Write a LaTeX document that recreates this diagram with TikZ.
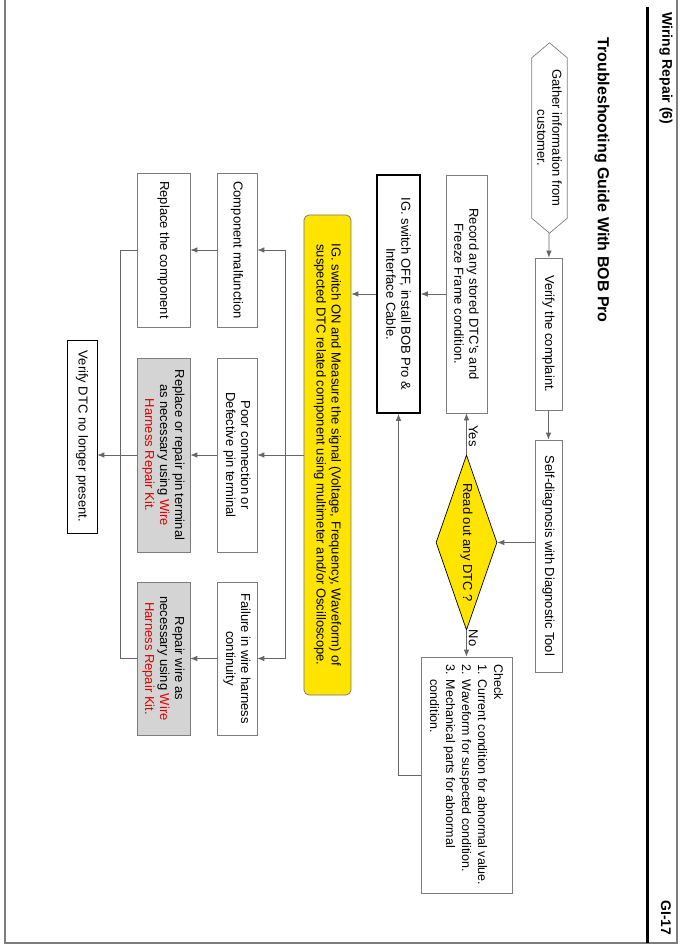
\documentclass[tikz,border=0pt]{standalone}
\usepackage{fontspec}
\setmainfont{Liberation Sans}
\usetikzlibrary{arrows.meta,calc,positioning,shapes.geometric}

\definecolor{dtcyellow}{RGB}{255,228,0}
\definecolor{kitred}{RGB}{220,0,0}
\definecolor{boxgray}{RGB}{125,125,125}
\definecolor{kitfill}{RGB}{212,212,212}
\newcommand{\kit}[1]{\textcolor{kitred}{#1}}

\begin{document}
\begin{tikzpicture}[x=1pt, y=1pt, every node/.style={font=\fontsize{13}{15}\selectfont}]
\tikzstyle{process} = [rectangle, draw=boxgray, line width=0.7pt, fill=white, text centered, inner sep=3pt]
\tikzstyle{repair} = [process, fill=kitfill]
\tikzstyle{decision} = [diamond, draw=black, line width=0.7pt, fill=dtcyellow, aspect=2.87, inner sep=0pt,
minimum width=175pt, minimum height=61pt]
\tikzstyle{arrow} = [line width=0.7pt, draw=black!60, ->, >={Latex[length=7pt,width=5.5pt]}]
\tikzstyle{line} = [line width=0.7pt, draw=black!60]

\useasboundingbox (-682,-950) rectangle (0,0);

\begin{scope}[rotate=-90, transform shape]
% Page frame and header
\draw [boxgray, line width=1.2pt] (0,-5) -- (943,-5) -- (943,-677) -- (0,-677);
\draw [line width=3pt] (7,-35) -- (943,-35);
\node (chapter) [anchor=west, font=\fontsize{14}{16}\selectfont\bfseries] at (9,-16) {Wiring Repair (6)};
\node (pageno) [anchor=east, font=\fontsize{14}{16}\selectfont\bfseries] at (939,-16) {GI-17};
\node (guide) [anchor=west, font=\fontsize{16}{18}\selectfont\bfseries] at (34,-80) {Troubleshooting Guide With BOB Pro};

% Nodes
\node (gather) [rectangle, minimum width=190pt, minimum height=35pt, align=center] at (138,-132.5)
  {Gather information from\\customer.};
\draw [boxgray, line width=0.7pt] (gather.west)
  -- ($(gather.north west)!15pt!(gather.north east)$) -- ($(gather.north east)!15pt!(gather.north west)$)
  -- (gather.east)
  -- ($(gather.south east)!15pt!(gather.south west)$) -- ($(gather.south west)!15pt!(gather.south east)$)
  -- cycle;
\node (verify) [process, minimum width=152pt, minimum height=27pt] at (334,-133.5) {Verify the complaint.};
\node (selfdiag) [process, minimum width=232pt, minimum height=27pt] at (556,-133.5) {Self-diagnosis with Diagnostic Tool};
\node (readdtc) [decision] at (542.5,-215.5) {Read out any DTC ?};
\node (record) [process, minimum width=238pt, minimum height=41pt, align=center] at (294,-215.5)
  {Record any stored DTC's and\\Freeze Frame condition.};
\node (check) [process, minimum width=236pt, minimum height=91pt, align=left, font=\fontsize{12.5}{16}\selectfont] at (775,-215.5)
  {Check\\1. Current condition for abnormal value.\\2. Waveform for suspected condition.\\3. Mechanical parts for abnormal\\\phantom{3. }condition.};
\node (igoff) [process, draw=black, line width=1.6pt, minimum width=238pt, minimum height=43pt, align=center] at (294,-283.5)
  {IG. switch OFF, install BOB Pro \&\\Interface Cable.};
\node (measure) [process, draw=black!55, rounded corners=5pt, fill=dtcyellow, minimum width=480pt, minimum height=47pt, align=center] at (455,-354.5)
  {IG. switch ON and Measure the signal (Voltage, Frequency, Waveform) of\\suspected DTC related component using multimeter and/or Oscilloscope.};
\node (compmal) [process, minimum width=154pt, minimum height=40pt] at (250,-445) {Component malfunction};
\node (poorconn) [process, minimum width=194pt, minimum height=40pt, align=center] at (455,-445) {Poor connection or\\Defective pin terminal};
\node (failwire) [process, minimum width=153pt, minimum height=40pt, align=center] at (658.5,-445) {Failure in wire harness\\continuity};
\node (replcomp) [process, minimum width=154pt, minimum height=53pt] at (250,-518.5) {Replace the component};
\node (replpin) [repair, minimum width=194pt, minimum height=53pt, align=center] at (455,-518.5)
  {Replace or repair pin terminal\\as necessary using \kit{Wire}\\\kit{Harness Repair Kit.}};
\node (repwire) [repair, minimum width=153pt, minimum height=53pt, align=center] at (658.5,-518.5)
  {Repair wire as\\necessary using \kit{Wire}\\\kit{Harness Repair Kit.}};
\node (verdtc) [process, draw=black, minimum width=193pt, minimum height=30pt] at (436.5,-600) {Verify DTC no longer present.};

\coordinate (split) at (0,-397);
\coordinate (merge) at (0,-562);

% Arrows
\draw [arrow] (gather) -- (verify);
\draw [arrow] (verify) -- (selfdiag);
\draw [arrow] (readdtc.north |- selfdiag.south) -- (readdtc.north);
\draw [arrow] (readdtc.west) -- node [above, pos=0.45, inner sep=2pt] {Yes} (record.east);
\draw [arrow] (readdtc.east) -- node [above, pos=0.3, inner sep=2pt] {No} (check.west);
\draw [arrow] (record) -- (igoff);
\draw [arrow] (check.south) |- (igoff.east);
\draw [arrow] (igoff.south) -- (igoff.south |- measure.north);
\draw [line] (measure.south) -- (measure.south |- split);
\draw [line] (compmal.north |- split) -- (failwire.north |- split);
\foreach \n in {compmal, poorconn, failwire}
  \draw [arrow] (\n.north |- split) -- (\n.north);
\foreach \a/\b in {compmal/replcomp, poorconn/replpin, failwire/repwire}
  \draw [arrow] (\a) -- (\b);
\draw [line] (replcomp.south) -- (replcomp.south |- merge) -- (repwire.south |- merge) -- (repwire.south);
\draw [line] (replpin.south) -- (replpin.south |- merge);
\draw [arrow] (replpin.south |- merge) -- (replpin.south |- verdtc.north);
\end{scope}
\end{tikzpicture}
\end{document}
